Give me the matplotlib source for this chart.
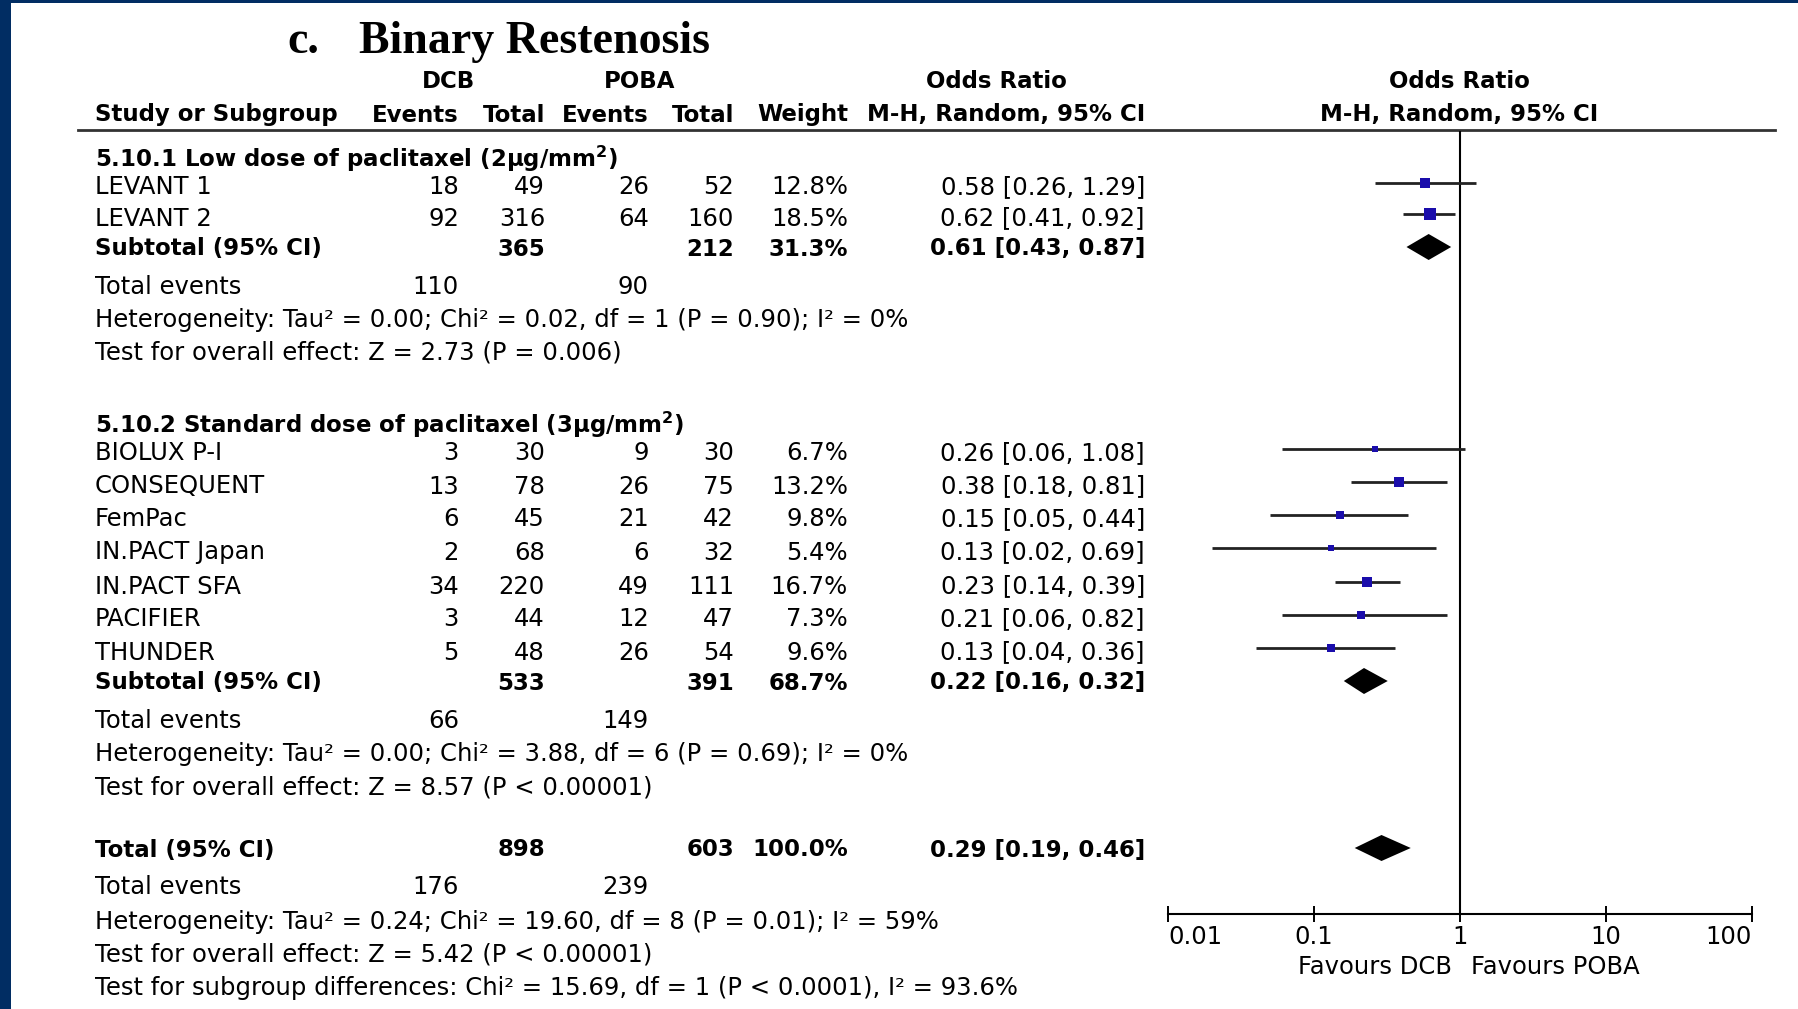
import numpy as np
import matplotlib.pyplot as plt
from matplotlib.patches import Rectangle
from matplotlib.ticker import NullLocator

plt.rcParams['font.family'] = ['DejaVu Sans']
plt.rcParams['mathtext.fontset'] = 'dejavusans'

# 5.10.1 low dose studies
low_names = ['LEVANT 1', 'LEVANT 2']
low_dcb_events = [18, 92]
low_dcb_total = [49, 316]
low_poba_events = [26, 64]
low_poba_total = [52, 160]
low_weight = [12.8, 18.5]
low_or = [0.58, 0.62]
low_lo = [0.26, 0.41]
low_hi = [1.29, 0.92]
low_sub = [365, 212, 31.3, 0.61, 0.43, 0.87]   # dcb total, poba total, weight, or, lo, hi
low_events = [110, 90]

# 5.10.2 standard dose studies
std_names = ['BIOLUX P-I', 'CONSEQUENT', 'FemPac', 'IN.PACT Japan', 'IN.PACT SFA', 'PACIFIER', 'THUNDER']
std_dcb_events = [3, 13, 6, 2, 34, 3, 5]
std_dcb_total = [30, 78, 45, 68, 220, 44, 48]
std_poba_events = [9, 26, 21, 6, 49, 12, 26]
std_poba_total = [30, 75, 42, 32, 111, 47, 54]
std_weight = [6.7, 13.2, 9.8, 5.4, 16.7, 7.3, 9.6]
std_or = [0.26, 0.38, 0.15, 0.13, 0.23, 0.21, 0.13]
std_lo = [0.06, 0.18, 0.05, 0.02, 0.14, 0.06, 0.04]
std_hi = [1.08, 0.81, 0.44, 0.69, 0.39, 0.82, 0.36]
std_sub = [533, 391, 68.7, 0.22, 0.16, 0.32]
std_events = [66, 149]

# overall
all_sub = [898, 603, 100.0, 0.29, 0.19, 0.46]
all_events = [176, 239]

low_het = 'Heterogeneity: Tau² = 0.00; Chi² = 0.02, df = 1 (P = 0.90); I² = 0%'
low_test = 'Test for overall effect: Z = 2.73 (P = 0.006)'
std_het = 'Heterogeneity: Tau² = 0.00; Chi² = 3.88, df = 6 (P = 0.69); I² = 0%'
std_test = 'Test for overall effect: Z = 8.57 (P < 0.00001)'
all_het = 'Heterogeneity: Tau² = 0.24; Chi² = 19.60, df = 8 (P = 0.01); I² = 59%'
all_test = 'Test for overall effect: Z = 5.42 (P < 0.00001)'
all_diff = 'Test for subgroup differences: Chi² = 15.69, df = 1 (P < 0.0001), I² = 93.6%'

xticks = [0.01, 0.1, 1, 10, 100]
xtick_labels = ['0.01', '0.1', '1', '10', '100']

# layout (pixels, from top)
W, H = 1799, 1009
FS = 17.5
FS_B = 16.5
col_x = [459, 545, 649, 734, 848, 1145]
name_x = 95
ax_left, ax_right, ax_top, ax_bottom = 1168, 1752, 131, 914

fig = plt.figure(figsize=(W / 100, H / 100), dpi=100)
tab = fig.add_axes([0, 0, 1, 1])
tab.set_xlim(0, W)
tab.set_ylim(H, 0)
tab.axis('off')

ax = fig.add_axes([ax_left / W, (H - ax_bottom) / H, (ax_right - ax_left) / W, (ax_bottom - ax_top) / H])
ax.patch.set_alpha(0)
ax.set_xscale('log')
ax.set_xlim(0.01, 100)
ax.set_ylim(ax_bottom, ax_top)


def put(x, y, s, ha='left', bold=False):
    tab.text(x, y + 8.5, s, ha=ha, va='baseline', fontsize=FS_B if bold else FS,
             fontweight='bold' if bold else 'normal', color='black')


def or_text(o, l, h):
    return f'{o:.2f} [{l:.2f}, {h:.2f}]'


def study_rows(ys, names, de, dt, pe, pt, w, o, l, h):
    for i, y in enumerate(ys):
        put(name_x, y, names[i])
        vals = [str(de[i]), str(dt[i]), str(pe[i]), str(pt[i]), f'{w[i]:.1f}%', or_text(o[i], l[i], h[i])]
        for cx, v in zip(col_x, vals):
            put(cx, y, v, ha='right')
        yy = y - 3
        ax.hlines(yy, l[i], h[i], color='#222222', lw=2, zorder=2)
        side = 2.6 * np.sqrt(w[i]) * 0.72
        ax.scatter(o[i], yy, marker='s', s=side ** 2, color='#1a0dab', linewidths=0, zorder=3)


def subtotal_row(y, label, sub):
    put(name_x, y, label, bold=True)
    vals = [str(sub[0]), str(sub[1]), f'{sub[2]:.1f}%', or_text(sub[3], sub[4], sub[5])]
    for cx, v in zip([col_x[1], col_x[3], col_x[4], col_x[5]], vals):
        put(cx, y, v, ha='right', bold=True)
    ax.fill([sub[4], sub[3], sub[5], sub[3]], [y, y - 13, y, y + 13], color='black', lw=0, zorder=3)


def events_row(y, ev):
    put(name_x, y, 'Total events')
    put(col_x[0], y, str(ev[0]), ha='right')
    put(col_x[2], y, str(ev[1]), ha='right')


# title and headers
tab.text(287, 53, 'c.', fontsize=33, fontweight='bold', family='Liberation Serif', va='baseline')
tab.text(359, 53, 'Binary Restenosis', fontsize=33, fontweight='bold', family='Liberation Serif', va='baseline')
put(449, 80, 'DCB', ha='center', bold=True)
put(640, 80, 'POBA', ha='center', bold=True)
put(996, 80, 'Odds Ratio', ha='center', bold=True)
put(1459, 80, 'Odds Ratio', ha='center', bold=True)
put(name_x, 113, 'Study or Subgroup', bold=True)
for cx, s in zip(col_x, ['Events', 'Total', 'Events', 'Total', 'Weight', 'M-H, Random, 95% CI']):
    put(cx, 113, s, ha='right', bold=True)
put(1459, 113, 'M-H, Random, 95% CI', ha='center', bold=True)
tab.plot([78, 1775], [130, 130], color='#333333', lw=2)

# group 1
put(name_x, 158, r'5.10.1 Low dose of paclitaxel (2μg/mm$^{\mathbf{2}}$)', bold=True)
study_rows([186, 217], low_names, low_dcb_events, low_dcb_total, low_poba_events,
           low_poba_total, low_weight, low_or, low_lo, low_hi)
subtotal_row(247, 'Subtotal (95% CI)', low_sub)
events_row(286, low_events)
put(name_x, 318, low_het)
put(name_x, 351, low_test)

# group 2
put(name_x, 424, r'5.10.2 Standard dose of paclitaxel (3μg/mm$^{\mathbf{2}}$)', bold=True)
study_rows([452, 485, 518, 551, 585, 618, 651], std_names, std_dcb_events, std_dcb_total,
           std_poba_events, std_poba_total, std_weight, std_or, std_lo, std_hi)
subtotal_row(681, 'Subtotal (95% CI)', std_sub)
events_row(719, std_events)
put(name_x, 752, std_het)
put(name_x, 786, std_test)

# overall
subtotal_row(848, 'Total (95% CI)', all_sub)
events_row(886, all_events)
put(name_x, 920, all_het)
put(name_x, 953, all_test)
put(name_x, 986, all_diff)

# forest axis
ax.axvline(1, color='black', lw=1.5, zorder=1)
for side in ['top', 'left', 'right']:
    ax.spines[side].set_visible(False)
ax.spines['bottom'].set_linewidth(1.5)
ax.set_yticks([])
ax.set_xticks(xticks)
ax.set_xticklabels(xtick_labels)
ax.xaxis.set_minor_locator(NullLocator())
ax.tick_params(axis='x', direction='inout', length=12, width=1.4, labelsize=FS, pad=2)
labels = ax.get_xticklabels()
labels[0].set_ha('left')
labels[-1].set_ha('right')
tab.text(1452, 966 + 8.5, 'Favours DCB', ha='right', va='baseline', fontsize=FS)
tab.text(1471, 966 + 8.5, 'Favours POBA', ha='left', va='baseline', fontsize=FS)

# blue frame
tab.add_patch(Rectangle((0, 0), 11, H, color='#012d63', lw=0))
tab.add_patch(Rectangle((0, 0), W, 3, color='#012d63', lw=0))

fig.savefig('out.png', dpi=100)
